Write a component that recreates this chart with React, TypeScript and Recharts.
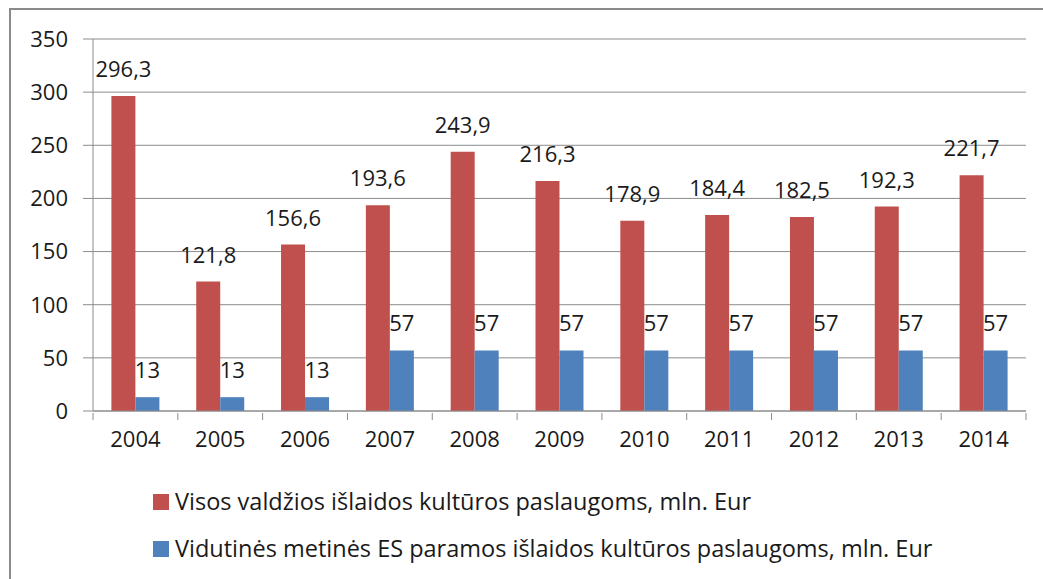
import React from "react"
import {
  BarChart,
  Bar,
  XAxis,
  YAxis,
  CartesianGrid,
  Legend,
  LabelList,
} from "recharts"

const years = ["2004", "2005", "2006", "2007", "2008", "2009", "2010", "2011", "2012", "2013", "2014"]
const governmentSpending = [296.3, 121.8, 156.6, 193.6, 243.9, 216.3, 178.9, 184.4, 182.5, 192.3, 221.7]
const euSupport = [13, 13, 13, 57, 57, 57, 57, 57, 57, 57, 57]
const yTicks = [0, 50, 100, 150, 200, 250, 300, 350]

const seriesNames = {
  gov: "Visos valdžios išlaidos kultūros paslaugoms, mln. Eur",
  eu: "Vidutinės metinės ES paramos išlaidos kultūros paslaugoms, mln. Eur",
}

const RED = "#C0504D"
const BLUE = "#4F81BD"
const GRID = "#8C8C8C"
const TEXT = "#1a1a1a"
const FONT = "'Open Sans', sans-serif"
const FS = 22

const data = years.map((year, i) => ({
  year,
  gov: governmentSpending[i],
  eu: euSupport[i],
}))

const formatLabel = (v: any) => String(v).replace(".", ",")

// excel style: tick marks sit between the categories, not under them
function YearTick(props: any) {
  const { x, y, payload, index, width } = props
  const step = (width || 933) / years.length
  const last = index === years.length - 1
  return (
    <g>
      <line x1={x - step / 2} x2={x - step / 2} y1={y} y2={y + 7} stroke={GRID} />
      {last && <line x1={x + step / 2} x2={x + step / 2} y1={y} y2={y + 7} stroke={GRID} />}
      <text x={x} y={y + 18} dy="0.71em" textAnchor="middle" fill={TEXT} fontSize={FS} fontFamily={FONT}>
        {payload.value}
      </text>
    </g>
  )
}

function LegendContent() {
  const items = [
    { name: seriesNames.gov, color: RED },
    { name: seriesNames.eu, color: BLUE },
  ]
  return (
    <div style={{ fontFamily: FONT, fontSize: 23.5, color: TEXT, lineHeight: 1 }}>
      {items.map((it) => (
        <div key={it.name} style={{ display: "flex", alignItems: "center", height: 47 }}>
          <span style={{ width: 16, height: 16, background: it.color, marginRight: 6, display: "inline-block" }} />
          <span>{it.name}</span>
        </div>
      ))}
    </div>
  )
}

export default function App() {
  return (
    <div style={{ position: "absolute", left: 0, top: 0, width: 1043, height: 579, background: "#fff", overflow: "hidden" }}>
      <div
        style={{
          position: "absolute",
          left: 9,
          top: 8,
          width: 1040,
          height: 600,
          border: "2px solid #8a8a8a",
          boxSizing: "border-box",
        }}
      />
      <BarChart
        width={1043}
        height={579}
        data={data}
        margin={{ top: 39, right: 17, left: 0, bottom: 0 }}
        barGap={0}
        barCategoryGap="21.7%"
        style={{ position: "absolute", left: 0, top: 0 }}
      >
        <CartesianGrid vertical={false} stroke={GRID} />
        <XAxis
          dataKey="year"
          axisLine={{ stroke: GRID }}
          tickLine={false}
          tickSize={0}
          height={74}
          interval={0}
          tick={<YearTick />}
        />
        <YAxis
          width={93}
          domain={[0, 350]}
          ticks={yTicks}
          interval={0}
          axisLine={{ stroke: GRID }}
          tickLine={{ stroke: GRID }}
          tickSize={10}
          tickMargin={15}
          tick={{ fill: TEXT, fontSize: FS, fontFamily: FONT }}
        />
        <Legend
          content={<LegendContent />}
          wrapperStyle={{ position: "absolute", left: 153, top: 478, width: 880 }}
        />
        <Bar dataKey="gov" name={seriesNames.gov} fill={RED} isAnimationActive={false}>
          <LabelList
            dataKey="gov"
            position="top"
            offset={19}
            formatter={formatLabel}
            style={{ fill: TEXT, fontSize: FS, fontFamily: FONT }}
          />
        </Bar>
        <Bar dataKey="eu" name={seriesNames.eu} fill={BLUE} isAnimationActive={false}>
          <LabelList
            dataKey="eu"
            position="top"
            offset={19}
            formatter={formatLabel}
            style={{ fill: TEXT, fontSize: FS, fontFamily: FONT }}
          />
        </Bar>
      </BarChart>
    </div>
  )
}
